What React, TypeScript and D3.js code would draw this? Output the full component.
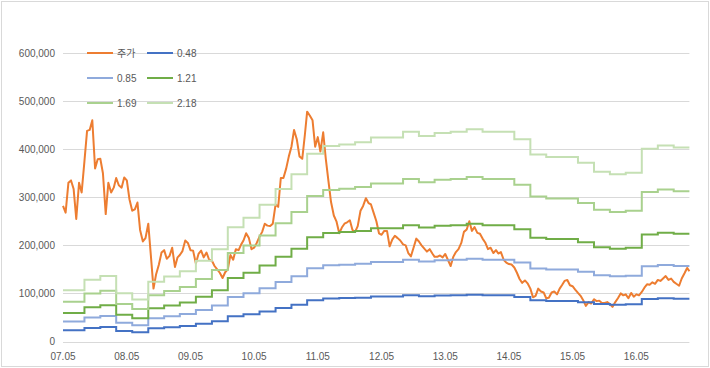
import * as d3 from "d3";
import React from "react";

// price and book value per share, in thousand won
const startDate = new Date(2007, 4, 1);
const endDate = new Date(2017, 2, 1);

const xTickLabels = ["07.05", "08.05", "09.05", "10.05", "11.05", "12.05", "13.05", "14.05", "15.05", "16.05"];
const yTicks = [0, 100000, 200000, 300000, 400000, 500000, 600000];

const pbrMultiples = [0.48, 0.85, 1.21, 1.69, 2.18];
const bandColors = ["#4472C4", "#8FAADC", "#70AD47", "#A9D18E", "#C5E0B4"];
const priceName = "주가";
const priceColor = "#ED7D31";

// BPS per quarter: first value from 07.05, then one per quarter from 07.09
const bps = [
  49, 59, 62.5, 46, 40, 57, 62, 67, 77, 88,
  109, 118, 130.5, 145.5, 159.5, 179, 186.5, 188, 190, 194.5,
  194.5, 200, 196, 199, 200, 202.5, 200, 200, 193, 178.5,
  176, 176, 170.5, 162, 159.5, 161, 184, 187, 185,
];

// share price, twice a month from 07.05
const price = [
  282, 268, 330, 335, 317, 255, 330, 310, 375, 438,
  440, 460, 360, 379, 380, 350, 265, 330, 310, 320,
  340, 325, 320, 341, 335, 296, 272, 275, 289, 232,
  208, 215, 245, 178, 110, 140, 160, 185, 190, 172,
  178, 195, 155, 175, 180, 188, 210, 205, 190, 189,
  162, 182, 189, 175, 185, 170, 168, 157, 150, 143,
  132, 144, 150, 180, 170, 192, 190, 202, 210, 225,
  215, 192, 195, 205, 218, 228, 245, 241, 240, 245,
  285, 280, 340, 340, 360, 385, 405, 440, 420, 385,
  380, 430, 478, 470, 460, 405, 425, 395, 435, 380,
  334, 290, 262, 250, 225, 237, 245, 248, 252, 232,
  228, 240, 272, 282, 298, 288, 285, 268, 250, 225,
  222, 230, 230, 198, 212, 220, 215, 210, 202, 200,
  184, 177, 196, 214, 208, 200, 193, 187, 192, 183,
  176, 176, 179, 175, 182, 170, 157, 176, 186, 192,
  205, 228, 233, 250, 230, 238, 226, 224, 214, 206,
  192, 195, 184, 190, 183, 186, 170, 164, 161, 160,
  154, 143, 130, 122, 127, 121, 110, 92, 95, 110,
  104, 102, 90, 91, 102, 104, 98, 110, 117, 126,
  128, 117, 115, 108, 101, 95, 86, 74, 82, 79,
  88, 84, 85, 80, 80, 82, 78, 72, 82, 90,
  100, 96, 98, 90, 101, 93, 98, 96, 103, 112,
  119, 118, 123, 120, 128, 126, 131, 136, 128, 131,
  124, 120, 116, 131, 142, 153, 146,
];

const W = 710;
const H = 368;
const plot = { left: 63, right: 689.4, top: 53, bottom: 341.5 };
const font = "'Liberation Sans', Arial, 'Noto Sans CJK KR', sans-serif";
const textColor = "#595959";
const gridColor = "#D9D9D9";

const priceDate = (i: number) =>
  d3.timeDay.offset(d3.timeMonth.offset(startDate, Math.floor(i / 2)), i % 2 ? 15 : 0);
const bpsDate = (i: number) =>
  i === 0 ? startDate : d3.timeMonth.offset(new Date(2007, 8, 1), 3 * (i - 1));

const App = () => {
  const x = d3.scaleTime().domain([startDate, endDate]).range([plot.left, plot.right]);
  const y = d3.scaleLinear().domain([0, 600000]).range([plot.bottom, plot.top]);

  const priceLine = d3
    .line<number>()
    .x((_, i) => x(priceDate(i)))
    .y((d) => y(d * 1000));

  const bandLine = (m: number) => {
    const pts: [Date, number][] = bps.map((b, i) => [bpsDate(i), b * m * 1000]);
    pts.push([endDate, bps[bps.length - 1] * m * 1000]);
    return d3
      .line<[Date, number]>()
      .x((d) => x(d[0]))
      .y((d) => y(d[1]))
      .curve(d3.curveStepAfter)(pts);
  };

  const legendItems = [
    { name: priceName, color: priceColor },
    ...pbrMultiples.map((m, i) => ({ name: m.toFixed(2), color: bandColors[i] })),
  ];

  return (
    <div style={{ position: "absolute", left: 0, top: 0 }}>
      <svg width={W} height={H} style={{ display: "block", fontFamily: font }}>
        <rect x={0} y={0} width={W} height={H} fill="#fff" />
        <rect x={1.5} y={1.5} width={707} height={365} fill="none" stroke={gridColor} />

        {yTicks.map((t) => (
          <g key={t}>
            <line x1={plot.left} x2={plot.right} y1={Math.round(y(t)) + 0.5} y2={Math.round(y(t)) + 0.5} stroke={gridColor} />
            <text x={55} y={y(t)} dy="0.35em" textAnchor="end" fontSize={10} fill={textColor}>
              {d3.format(",")(t)}
            </text>
          </g>
        ))}

        {xTickLabels.map((lab, i) => (
          <text key={lab} x={x(d3.timeMonth.offset(startDate, 12 * i))} y={360} textAnchor="middle" fontSize={10} fill={textColor}>
            {lab}
          </text>
        ))}

        <path d={priceLine(price) || ""} fill="none" stroke={priceColor} strokeWidth={2} strokeLinejoin="round" />

        {pbrMultiples.map((m, i) => (
          <path key={m} d={bandLine(m) || ""} fill="none" stroke={bandColors[i]} strokeWidth={2} />
        ))}

        {legendItems.map((it, i) => {
          const lx = 87 + (i % 2) * 60;
          const ly = 53 + Math.floor(i / 2) * 25;
          return (
            <g key={it.name}>
              <line x1={lx} x2={lx + 26} y1={ly} y2={ly} stroke={it.color} strokeWidth={2} />
              <text x={lx + 30} y={ly} dy="0.35em" fontSize={10} fill={textColor}>
                {it.name}
              </text>
            </g>
          );
        })}
      </svg>
    </div>
  );
};

export default App;
